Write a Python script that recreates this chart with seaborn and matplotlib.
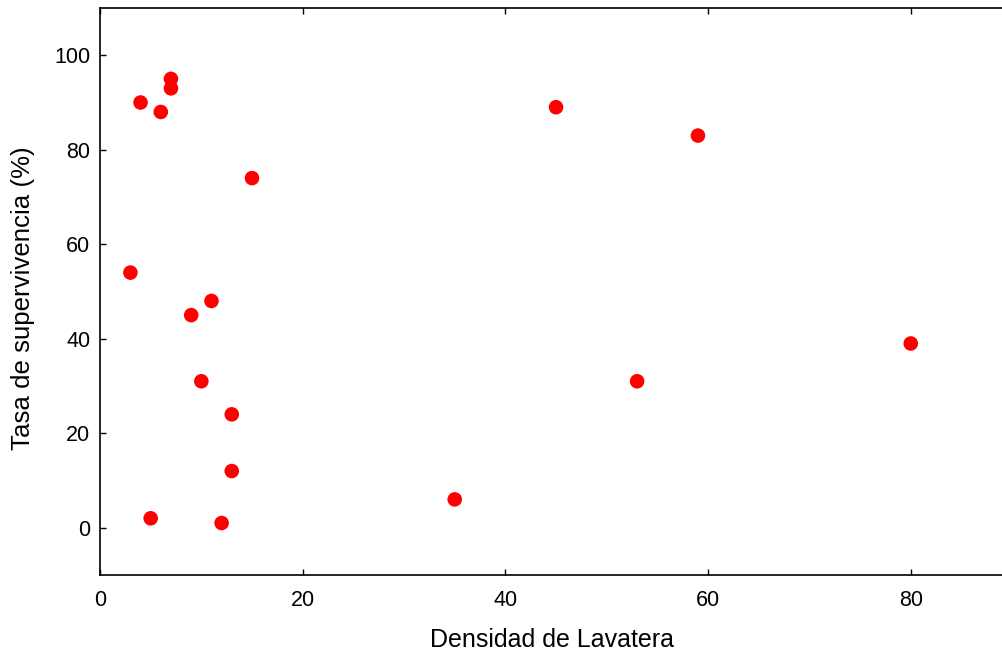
import matplotlib
matplotlib.use("Agg")
import matplotlib.pyplot as plt
import seaborn as sns
import pandas as pd

densidad = [3, 4, 5, 6, 7, 7, 9, 10, 11, 12, 13, 13, 15, 35, 45, 53, 59, 80]
supervivencia = [54, 90, 2, 88, 95, 93, 45, 31, 48, 1, 24, 12, 74, 6, 89, 31, 83, 39]
xticks = [0, 20, 40, 60, 80]
yticks = [0, 20, 40, 60, 80, 100]

sns.set_style("white", {"xtick.direction": "in", "ytick.direction": "in",
                        "text.color": "black", "axes.labelcolor": "black",
                        "xtick.color": "black", "ytick.color": "black"})
plt.rcParams['font.family'] = ['Liberation Sans', 'DejaVu Sans']

df = pd.DataFrame({"x": densidad, "y": supervivencia})
fig = plt.figure(figsize=(10.02, 6.57), dpi=100)
ax = fig.add_axes([100/1002, 1 - 575/657, 1 - 100/1002 + 0.002, (575 - 8)/657])
sns.scatterplot(data=df, x="x", y="y", ax=ax, color="#ff0000", s=110,
                edgecolor="none", linewidth=0, zorder=3)
ax.set_xlim(0, 89.2)
ax.set_ylim(-10, 110)
ax.set_xticks(xticks)
ax.set_yticks(yticks)
ax.tick_params(axis="both", direction="in", length=4, width=1, labelsize=15.5,
               colors="black", bottom=True, left=True, top=True, right=False)
ax.tick_params(axis="x", pad=11)
ax.tick_params(axis="y", pad=7)
for s in ["left", "bottom", "top"]:
    ax.spines[s].set_visible(True)
    ax.spines[s].set_color("black")
    ax.spines[s].set_linewidth(1.2)
ax.spines["right"].set_visible(False)
ax.set_xlabel("Densidad de Lavatera", fontsize=18, labelpad=12, color="black")
ax.set_ylabel("Tasa de supervivencia (%)", fontsize=18.6, color="black")
ax.yaxis.set_label_coords(-0.072, 0.489)
fig.savefig("out.png", dpi=100)
